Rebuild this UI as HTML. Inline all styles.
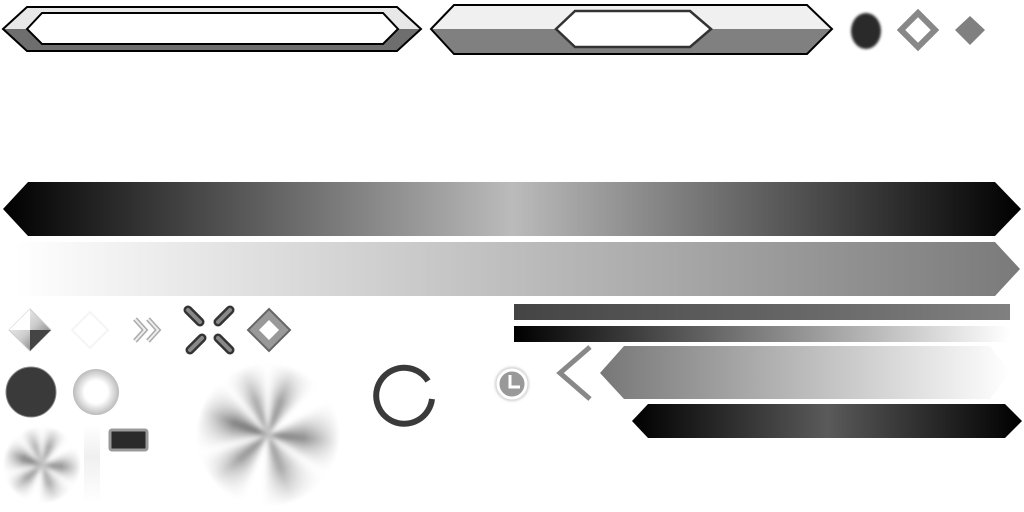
<!DOCTYPE html>
<html><head><style>
html,body{margin:0;padding:0;background:#fff;width:1024px;height:512px;overflow:hidden;position:relative}
.burst{position:absolute;border-radius:50%;
background:conic-gradient(from 0deg,#fff 0deg,#777 20deg,#fff 45deg,#fff 60deg,#666 95deg,#fff 125deg,#888 160deg,#fff 185deg,#fff 200deg,#777 230deg,#fff 255deg,#555 290deg,#fff 320deg,#888 340deg,#fff 360deg);
-webkit-mask-image:radial-gradient(circle,rgba(0,0,0,1) 0%,rgba(0,0,0,.75) 35%,rgba(0,0,0,0) 70%);
filter:blur(2.5px)}
</style></head><body>
<svg width="1024" height="512" style="position:absolute;left:0;top:0">
<defs>
<linearGradient id="g3" x1="0" x2="1"><stop offset="0" stop-color="#000"/><stop offset=".5" stop-color="#bbb"/><stop offset="1" stop-color="#000"/></linearGradient>
<linearGradient id="g4" x1="0" x2="1"><stop offset="0" stop-color="#fff"/><stop offset="1" stop-color="#7a7a7a"/></linearGradient>
<linearGradient id="g5" x1="0" x2="1"><stop offset="0" stop-color="#444"/><stop offset="1" stop-color="#808080"/></linearGradient>
<linearGradient id="g6" x1="0" x2="1"><stop offset="0" stop-color="#000"/><stop offset="1" stop-color="#fff"/></linearGradient>
<linearGradient id="g7" x1="0" x2="1"><stop offset="0" stop-color="#777"/><stop offset="1" stop-color="#fff"/></linearGradient>
<linearGradient id="g8" x1="0" x2="1"><stop offset="0" stop-color="#000"/><stop offset=".5" stop-color="#5a5a5a"/><stop offset="1" stop-color="#000"/></linearGradient>
<linearGradient id="gv" x1="0" y1="0" x2="0" y2="1"><stop offset="0" stop-color="#fff"/><stop offset=".4" stop-color="#f0f0f0"/><stop offset="1" stop-color="#fff"/></linearGradient>
<linearGradient id="gem" x1="0" y1="0" x2="1" y2="1"><stop offset="0" stop-color="#fff"/><stop offset=".5" stop-color="#ccc"/><stop offset="1" stop-color="#555"/></linearGradient>
<radialGradient id="lc"><stop offset=".5" stop-color="#fff"/><stop offset="1" stop-color="#bbb"/></radialGradient>
<filter id="bl"><feGaussianBlur stdDeviation="1.2"/></filter>
</defs>
<polygon points="3,29 27,7 397,7 421,29 397,51 27,51" fill="#e8e8e8"/>
<polygon points="3,29 421,29 397,51 27,51" fill="#6e6e6e"/>
<polygon points="3,29 27,7 397,7 421,29 397,51 27,51" fill="none" stroke="#000" stroke-width="2"/>
<polygon points="27,29 42,13 383,13 398,29 383,44 42,44" fill="#fff" stroke="#000" stroke-width="2"/>
<polygon points="431,29 454,5 807,5 832,29 807,54 454,54" fill="#f0f0f0"/>
<polygon points="431,29 832,29 807,54 454,54" fill="#808080"/>
<polygon points="431,29 454,5 807,5 832,29 807,54 454,54" fill="none" stroke="#000" stroke-width="2"/>
<polygon points="556,29 575,11 690,11 711,29 690,47 575,47" fill="#fff" stroke="#333" stroke-width="2.5"/>
<ellipse cx="866" cy="31" rx="15" ry="18" fill="#2a2a2a" filter="url(#bl)"/>
<polygon points="918,13 935,30 918,47 901,30" fill="none" stroke="#888" stroke-width="6"/>
<polygon points="970,16 985,30 970,45 955,30" fill="#808080"/>
<polygon points="3,209 28,182 995,182 1021,209 995,236 28,236" fill="url(#g3)"/>
<polygon points="15,242 995,242 1020,269 995,296 15,296" fill="url(#g4)"/>
<rect x="514" y="304" width="496" height="16" fill="url(#g5)"/>
<rect x="514" y="326" width="496" height="16" fill="url(#g6)"/>
<polygon points="600,373 624,346 990,346 1010,373 990,399 624,399" fill="url(#g7)"/>
<polyline points="590,347 560,373 590,399" fill="none" stroke="#888" stroke-width="5"/>
<polygon points="632,421 648,404 1005,404 1022,421 1005,438 648,438" fill="url(#g8)"/>
<circle cx="512" cy="384" r="17" fill="#ccc" filter="url(#bl)"/>
<circle cx="512" cy="384" r="14" fill="#999" stroke="#fff" stroke-width="3"/>
<polyline points="510,375 510,387 520,387" fill="none" stroke="#fff" stroke-width="3"/>
<path d="M428,381 A28,28 0 1 0 432,399" fill="none" stroke="#3a3a3a" stroke-width="6"/>
<polygon points="30,309 51,330 30,351 9,330" fill="url(#gem)" stroke="#ccc"/>
<polygon points="30,309 9,330 30,330" fill="#fff"/>
<polygon points="30,330 51,330 30,351" fill="#444"/>
<polygon points="90,312 108,330 90,348 72,330" fill="none" stroke="#f4f4f4" stroke-width="2"/>
<polyline points="135,319 145,330 135,341" fill="none" stroke="#aaa" stroke-width="5"/>
<polyline points="135,319 145,330 135,341" fill="none" stroke="#eee" stroke-width="2"/>
<polyline points="148,319 158,330 148,341" fill="none" stroke="#aaa" stroke-width="5"/>
<polyline points="148,319 158,330 148,341" fill="none" stroke="#eee" stroke-width="2"/>
<g stroke="#333" stroke-width="9" stroke-linecap="round">
<line x1="188" y1="310" x2="200" y2="322"/><line x1="230" y1="310" x2="218" y2="322"/>
<line x1="190" y1="350" x2="202" y2="338"/><line x1="218" y1="338" x2="230" y2="350"/></g>
<g stroke="#888" stroke-width="4" stroke-linecap="round">
<line x1="188" y1="310" x2="200" y2="322"/><line x1="230" y1="310" x2="218" y2="322"/>
<line x1="190" y1="350" x2="202" y2="338"/><line x1="218" y1="338" x2="230" y2="350"/></g>
<polygon points="269,309 290,330 269,351 248,330" fill="#999" stroke="#666" stroke-width="2"/>
<polygon points="269,320 279,330 269,340 259,330" fill="#fff"/>
<circle cx="31" cy="392" r="25" fill="#3a3a3a" stroke="#888" stroke-width="1"/>
<circle cx="96" cy="392" r="23" fill="url(#lc)"/>
<rect x="84" y="425" width="16" height="78" fill="url(#gv)"/>
<rect x="110" y="430" width="37" height="20" rx="2" fill="#2a2a2a" stroke="#999" stroke-width="3"/>
</svg>
<div class="burst" style="left:195px;top:362px;width:146px;height:146px"></div>
<div class="burst" style="left:2px;top:425px;width:80px;height:80px"></div>
</body></html>
